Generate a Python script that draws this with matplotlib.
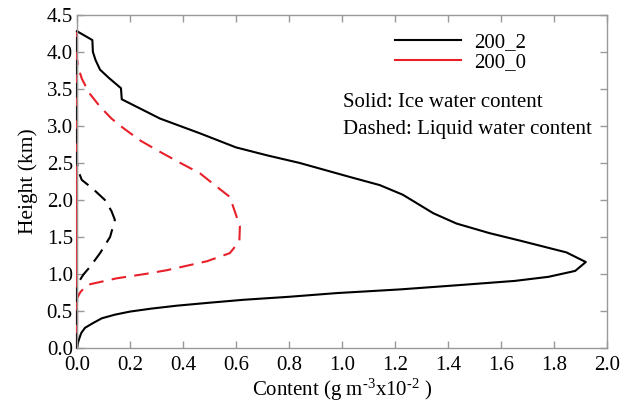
import matplotlib
matplotlib.use("Agg")
import matplotlib.pyplot as plt

plt.rcParams["font.family"] = ["Liberation Serif", "DejaVu Serif"]
plt.rcParams["mathtext.fontset"] = "custom"
plt.rcParams["mathtext.rm"] = "Liberation Serif"
plt.rcParams["mathtext.it"] = "Liberation Serif:italic"

# ice water content, case 200_2 (height km, content g m-3 x1e-2)
ice2_h = [0.0, 0.06, 0.12, 0.20, 0.27, 0.33, 0.40, 0.45, 0.49, 0.53, 0.57,
          0.61, 0.65, 0.69, 0.74, 0.79, 0.85, 0.905, 0.96, 1.04, 1.16, 1.29,
          1.45, 1.55, 1.68, 1.82, 2.07, 2.20, 2.31, 2.50, 2.60, 2.71, 2.90,
          3.10, 3.25, 3.36, 3.51, 3.65, 3.76, 3.89, 4.00, 4.16, 4.28]
ice2_v = [0.0, 0.003, 0.008, 0.016, 0.03, 0.058, 0.094, 0.145, 0.20, 0.28,
          0.377, 0.50, 0.63, 0.80, 0.98, 1.22, 1.45, 1.653, 1.78, 1.881,
          1.921, 1.848, 1.672, 1.558, 1.433, 1.345, 1.23, 1.143, 1.03, 0.84,
          0.72, 0.60, 0.464, 0.313, 0.23, 0.169, 0.166, 0.12, 0.087, 0.07,
          0.06, 0.058, 0.0]

# liquid water content, case 200_2
liq2_h = [0.0, 0.83, 0.90, 0.99, 1.10, 1.28, 1.50, 1.73, 1.85, 2.00, 2.15,
          2.27, 2.40, 2.50, 4.30]
liq2_v = [0.0, 0.0, 0.008, 0.024, 0.05, 0.087, 0.125, 0.143, 0.13, 0.105,
          0.06, 0.018, 0.004, 0.0, 0.0]

# ice water content, case 200_0 (none)
ice0_h = [0.0, 4.28]
ice0_v = [0.0, 0.0]

# liquid water content, case 200_0
liq0_h = [0.0, 0.67, 0.75, 0.85, 0.94, 1.00, 1.05, 1.17, 1.28, 1.44, 1.64,
          1.80, 2.04, 2.20, 2.36, 2.50, 2.65, 2.80, 2.97, 3.10, 3.26, 3.45,
          3.64, 3.80, 3.90]
liq0_v = [0.0, 0.0, 0.012, 0.037, 0.15, 0.26, 0.34, 0.49, 0.577, 0.613,
          0.615, 0.60, 0.577, 0.52, 0.464, 0.39, 0.313, 0.24, 0.175, 0.13,
          0.087, 0.045, 0.018, 0.004, 0.0]

RED = "#e8202a"
GREY = "#999999"
FS = 15

fig = plt.figure(figsize=(6.21, 4.04), dpi=100)
ax = fig.add_axes([0.124, 0.139, 0.853, 0.824])

lw = 1.5
ax.plot(ice0_v, ice0_h, color=RED, lw=lw, clip_on=False, label="200_0")
ax.plot(liq0_v, liq0_h, color=RED, lw=lw, dashes=(7, 4), clip_on=False)
ax.plot(ice2_v, ice2_h, color="black", lw=lw, clip_on=False, label="200_2")
ax.plot(liq2_v, liq2_h, color="black", lw=lw, dashes=(7, 4), clip_on=False)

ax.set_xlim(0, 2.0)
ax.set_ylim(0, 4.5)
ax.set_xticks([i * 0.2 for i in range(11)])
ax.set_yticks([i * 0.5 for i in range(10)])
ax.xaxis.set_major_formatter(matplotlib.ticker.FormatStrFormatter("%.1f"))
ax.yaxis.set_major_formatter(matplotlib.ticker.FormatStrFormatter("%.1f"))

for s in ax.spines.values():
    s.set_color(GREY)
    s.set_linewidth(1.0)
ax.tick_params(direction="in", length=5, width=1.0, color=GREY,
               top=True, right=True, labelsize=FS, labelcolor="black")
ax.tick_params(axis="x", pad=6)
ax.tick_params(axis="y", pad=3)

ax.set_xlabel(r"Content (g m$^{\text{-3}}$x10$^{\text{-2}}$ )", fontsize=FS,
              labelpad=1)
ax.set_ylabel("Height (km)", fontsize=15.5, labelpad=6)

handles, labels = ax.get_legend_handles_labels()
ax.legend(handles[::-1], labels[::-1], loc="upper left",
          bbox_to_anchor=(0.572, 0.99), frameon=False, fontsize=FS,
          handlelength=3.2, handletextpad=0.6, labelspacing=0.0,
          borderpad=0.2)

ax.text(1.004, 3.31, "Solid: Ice water content", fontsize=FS, va="center")
ax.text(1.004, 2.95, "Dashed: Liquid water content", fontsize=FS,
        va="center")

fig.savefig("out.png", dpi=100)
